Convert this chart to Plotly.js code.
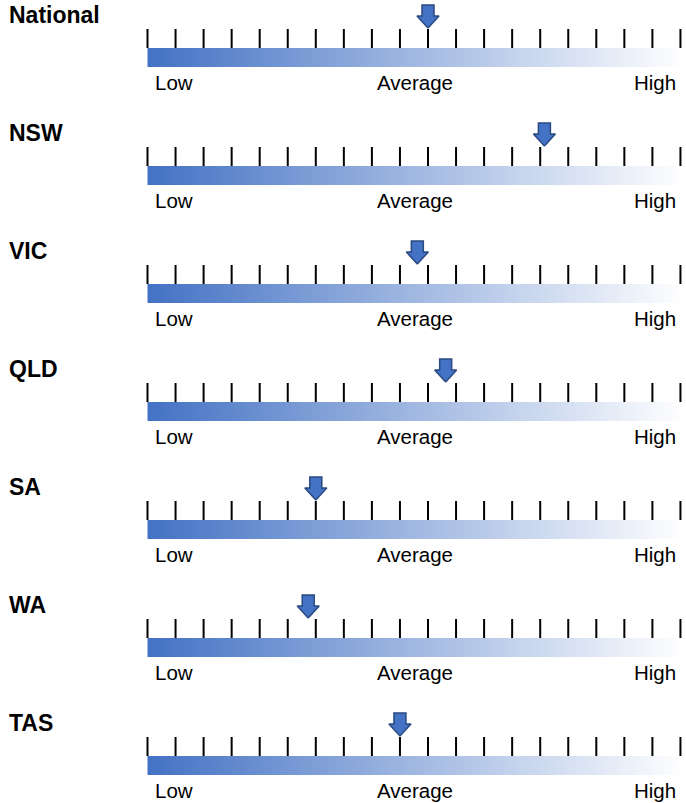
<!DOCTYPE html>
<html><head><meta charset="utf-8">
<script src="https://cdn.plot.ly/plotly-3.0.1.min.js"></script>
<style>html,body{margin:0;padding:0;background:#fff}</style>
</head><body><div id="chart" style="width:686px;height:803px"></div>
<script>
// ---- data ----
const regions = ['National', 'NSW', 'VIC', 'QLD', 'SA', 'WA', 'TAS'];
const positions = [10.0, 14.15, 9.62, 10.63, 6.0, 5.73, 9.0]; // on the tick scale (0 = first tick)
const tickValues = [0, 1, 2, 3, 4, 5, 6, 7, 8, 9, 10, 11, 12, 13, 14, 15, 16, 17, 18, 19];
const scaleLabels = ['Low', 'Average', 'High'];
const scaleLabelPos = [0.18, 9.55, 18.92];
const scaleLabelAnchor = ['left', 'center', 'right'];

// ---- layout helpers (pixel geometry) ----
const W = 686, H = 803;
const PX_PER_UNIT = 28.05, FIRST_TICK_PX = 147.5;
const xMin = -FIRST_TICK_PX / PX_PER_UNIT;
const xMax = xMin + W / PX_PER_UNIT;
const u = px => px / PX_PER_UNIT;          // pixel length -> x units
const ROW0 = 48, ROW_STEP = 118, BAR_H = 19, TICK_H = 19;
const barTop = i => ROW0 + ROW_STEP * i;
const barEnd = xMax;

const traces = [];
const annotations = [];

regions.forEach((name, i) => {
  const top = barTop(i);
  // gradient bar
  const n = 220;
  const xe = [], z = [];
  for (let k = 0; k <= n; k++) xe.push(0 + (barEnd - 0) * k / n);
  const row = [];
  for (let k = 0; k < n; k++) row.push(k / (n - 1));
  z.push(row);
  traces.push({
    type: 'heatmap', x: xe, y: [top, top + BAR_H], z: z,
    colorscale: [[0, '#4472C4'], [1, '#FFFFFF']], zmin: 0, zmax: 1,
    showscale: false, hoverinfo: 'skip'
  });
  // ticks
  const tx = [], ty = [];
  tickValues.forEach(t => { tx.push(t, t, null); ty.push(top - TICK_H, top, null); });
  traces.push({
    type: 'scatter', mode: 'lines', x: tx, y: ty,
    line: {color: '#000000', width: 2}, hoverinfo: 'skip'
  });
  // arrow
  const v = positions[i];
  const tip = top - 20, headH = 12, shaftH = 11;
  const hw = u(11), sw = u(6);
  const ax = [v, v - hw, v - sw, v - sw, v + sw, v + sw, v + hw, v];
  const ay = [tip, tip - headH, tip - headH, tip - headH - shaftH, tip - headH - shaftH, tip - headH, tip - headH, tip];
  traces.push({
    type: 'scatter', mode: 'lines', x: ax, y: ay, fill: 'toself',
    fillcolor: '#4472C4', line: {color: '#2A4A80', width: 1.5}, hoverinfo: 'skip'
  });
  // region label
  annotations.push({
    text: '<b>' + name + '</b>', xref: 'paper', yref: 'y', x: 7 / W, y: top - 33,
    xanchor: 'left', yanchor: 'middle', showarrow: false,
    font: {family: 'Liberation Sans, Arial, sans-serif', size: 23, color: '#000'}
  });
  // scale labels
  scaleLabels.forEach((t, j) => {
    annotations.push({
      text: t, xref: 'x', yref: 'y', x: scaleLabelPos[j], y: top + 34,
      xanchor: scaleLabelAnchor[j], yanchor: 'middle', showarrow: false,
      font: {family: 'Liberation Sans, Arial, sans-serif', size: 20.5, color: '#000'}
    });
  });
});

const layout = {
  width: W, height: H,
  margin: {l: 0, r: 0, t: 0, b: 0},
  paper_bgcolor: '#ffffff', plot_bgcolor: '#ffffff',
  showlegend: false,
  xaxis: {range: [xMin, xMax], visible: false, fixedrange: true},
  yaxis: {range: [H, 0], visible: false, fixedrange: true},
  annotations: annotations
};
Plotly.newPlot('chart', traces, layout, {staticPlot: true, displayModeBar: false});
</script></body></html>
